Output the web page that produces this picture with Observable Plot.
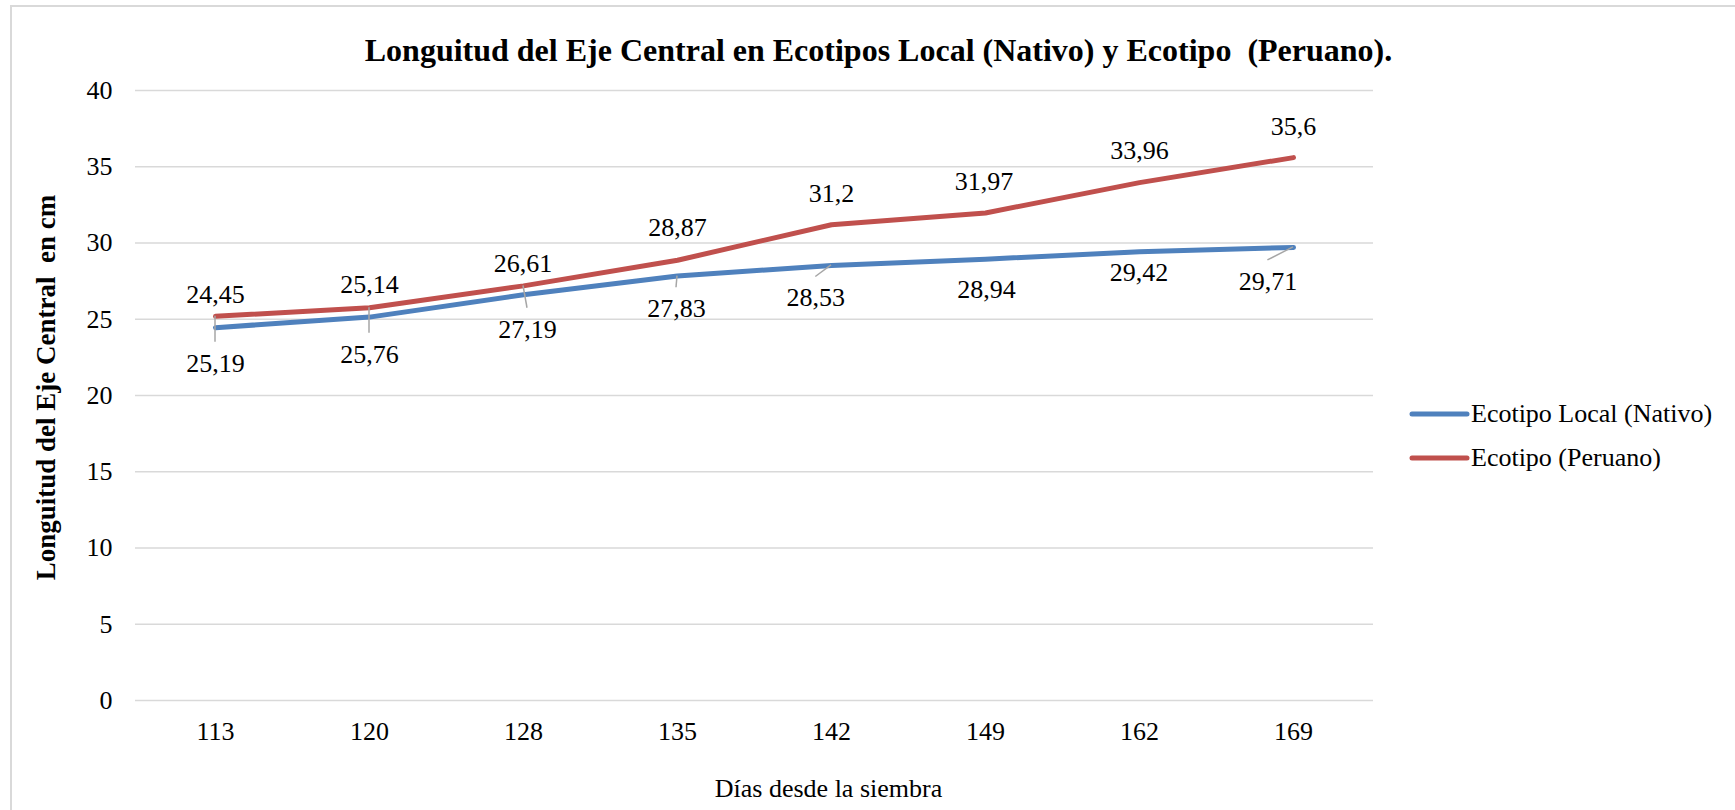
<!DOCTYPE html>
<html>
<head>
<meta charset="utf-8">
<script src="https://cdn.jsdelivr.net/npm/d3@7"></script>
<script src="https://cdn.jsdelivr.net/npm/@observablehq/plot@0.6"></script>
<style>
  body { margin: 0; background: #fff; }
  svg text { white-space: pre; font-family: "Liberation Serif", "Times New Roman", serif; }
</style>
</head>
<body>
<div id="chart"></div>
<script>
// ---- data ----
const days = ["113", "120", "128", "135", "142", "149", "162", "169"];
const localValues = [24.45, 25.14, 26.61, 27.83, 28.53, 28.94, 29.42, 29.71];
const peruanoValues = [25.19, 25.76, 27.19, 28.87, 31.2, 31.97, 33.96, 35.6];
const seriesNames = ["Ecotipo Local (Nativo)", "Ecotipo (Peruano)"];
const yTicks = [0, 5, 10, 15, 20, 25, 30, 35, 40];
const titleText = "Longuitud del Eje Central en Ecotipos Local (Nativo) y Ecotipo  (Peruano).";
const yTitle = "Longuitud del Eje Central  en cm";
const xTitle = "Días desde la siembra";

// ---- layout / style (not data) ----
const seriesColors = ["#4F81BD", "#C0504D"];
const localLabelOffsets = [[0, -33], [0, -32], [-0.6, -31], [-1, 32.7], [-15.7, 32.6], [1, 30.3], [-0.4, 21], [-25.6, 34]];
const localLeaders = [false, false, false, true, true, false, false, true];
const peruanoLabelOffsets = [[0, 47], [0, 46.6], [4, 43.4], [0, -33], [0, -31.4], [-1.4, -30.8], [0, -32], [0, -31.4]];
const peruanoLeaders = [true, true, true, false, false, false, false, false];

const fmt = v => String(v).replace(".", ",");

const rows = [];
days.forEach((d, i) => {
  rows.push({day: d, value: localValues[i], serie: seriesNames[0], off: localLabelOffsets[i], leader: localLeaders[i]});
  rows.push({day: d, value: peruanoValues[i], serie: seriesNames[1], off: peruanoLabelOffsets[i], leader: peruanoLeaders[i]});
});

const FONT = "Liberation Serif";

function borderMark(index, scales, values, dim) {
  const r = d3.create("svg:rect")
    .attr("x", 11).attr("y", 6)
    .attr("width", dim.width + 50).attr("height", dim.height + 50)
    .attr("fill", "none").attr("stroke", "#d9d9d9").attr("stroke-width", 2);
  return r.node();
}

function leaderMark(index, scales) {
  const g = d3.create("svg:g").attr("stroke", "#a6a6a6").attr("stroke-width", 1.5);
  rows.filter(r => r.leader).forEach(r => {
    const px = scales.x(r.day), py = scales.y(r.value);
    g.append("line")
      .attr("x1", px).attr("y1", py)
      .attr("x2", px + r.off[0]).attr("y2", py + r.off[1] - 21);
  });
  return g.node();
}

function legendMark(index, scales, values, dim) {
  const x0 = dim.width - dim.marginRight + 39;
  const g = d3.create("svg:g");
  seriesNames.forEach((name, i) => {
    const y = 414 + 44 * i;
    g.append("line").attr("x1", x0).attr("x2", x0 + 55).attr("y1", y).attr("y2", y)
      .attr("stroke", seriesColors[i]).attr("stroke-width", 5).attr("stroke-linecap", "round");
    g.append("text").attr("x", x0 + 59).attr("y", y).attr("dy", "0.32em")
      .attr("text-anchor", "start").attr("font-family", FONT)
      .attr("font-size", 26).attr("fill", "#000").text(name);
  });
  return g.node();
}

const labelMarks = rows.map(r => Plot.text([r], {
  x: "day", y: "value", text: d => fmt(d.value),
  dx: r.off[0], dy: r.off[1], fontSize: 26, fontFamily: FONT, fill: "#000"
}));

const chart = Plot.plot({
  width: 1735,
  height: 810,
  marginLeft: 135,
  marginRight: 362,
  marginTop: 90,
  marginBottom: 110,
  style: {fontFamily: FONT, fontSize: "26px", color: "#000", background: "#fff", overflow: "visible"},
  x: {type: "point", domain: days, padding: 0.5, label: null},
  y: {domain: [0, 40], label: null},
  color: {domain: seriesNames, range: seriesColors},
  marks: [
    borderMark,
    Plot.ruleY(yTicks, {stroke: "#d9d9d9", strokeWidth: 1.5}),
    Plot.axisY({ticks: yTicks, tickSize: 0, tickPadding: 23, label: null, fontSize: 26, fontFamily: FONT, fontVariant: "normal"}),
    Plot.axisX({tickSize: 0, tickPadding: 21, label: null, fontSize: 26, fontFamily: FONT, fontVariant: "normal"}),
    Plot.line(rows, {x: "day", y: "value", z: "serie", stroke: "serie", strokeWidth: 5,
      strokeLinecap: "round", strokeLinejoin: "round"}),
    leaderMark,
    ...labelMarks,
    legendMark,
    Plot.text([titleText], {frameAnchor: "top", dx: 124, dy: -40, lineAnchor: "middle", textAnchor: "middle",
      fontSize: 32, fontWeight: "bold", fontFamily: FONT, fill: "#000"}),
    Plot.text([yTitle], {frameAnchor: "left", dx: -89, dy: -8, rotate: -90, lineAnchor: "middle", textAnchor: "middle",
      fontSize: 27, fontWeight: "bold", fontFamily: FONT, fill: "#000"}),
    Plot.text([xTitle], {frameAnchor: "bottom", dx: 74, dy: 88, lineAnchor: "middle", textAnchor: "middle",
      fontSize: 26, fontFamily: FONT, fill: "#000"})
  ]
});

document.getElementById("chart").appendChild(chart);
</script>
</body>
</html>
